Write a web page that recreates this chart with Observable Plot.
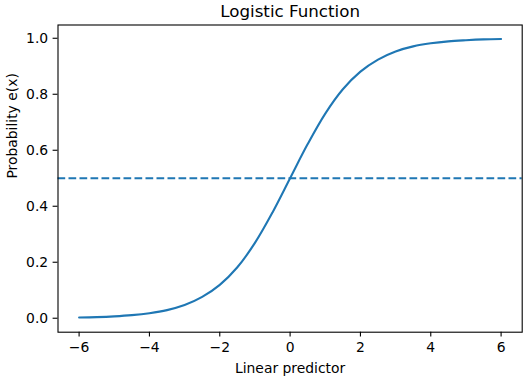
<!DOCTYPE html>
<html>
<head>
<meta charset="utf-8">
<script src="https://cdn.jsdelivr.net/npm/d3@7"></script>
<script src="https://cdn.jsdelivr.net/npm/@observablehq/plot@0.6"></script>
<style>
  html, body { margin: 0; padding: 0; background: #fff; }
  svg { display: block; }
</style>
</head>
<body>
<div id="chart"></div>
<script>
// Values
const xValues = [-6, -5.5, -5, -4.5, -4, -3.5, -3, -2.5, -2, -1.5, -1, -0.5, 0, 0.5, 1, 1.5, 2, 2.5, 3, 3.5, 4, 4.5, 5, 5.5, 6];
const probValues = [0.0025, 0.004, 0.0067, 0.011, 0.018, 0.029, 0.047, 0.076, 0.119, 0.182, 0.269, 0.378, 0.5, 0.622, 0.731, 0.818, 0.881, 0.924, 0.953, 0.971, 0.982, 0.989, 0.993, 0.996, 0.9975];
const thresholdValue = [0.5];
const xTicks = [-6, -4, -2, 0, 2, 4, 6];
const yTicks = [0.0, 0.2, 0.4, 0.6, 0.8, 1.0];
const titleText = "Logistic Function";
const xLabelText = "Linear predictor";
const yLabelText = "Probability e(x)";

const data = xValues.map((x, i) => ({x, y: probValues[i]}));
const blue = "#1f77b4";
const font = "DejaVu Sans, sans-serif";

const chart = Plot.plot({
  width: 527,
  height: 379,
  marginLeft: 57.5,
  marginRight: 5.3,
  marginTop: 24.5,
  marginBottom: 47.3,
  style: {fontFamily: font, fontSize: "13.9px", color: "black", background: "white"},
  x: {domain: [-6.6, 6.6]},
  y: {domain: [-0.04988, 1.04738]},
  marks: [
    Plot.line(data, {x: "x", y: "y", stroke: blue, strokeWidth: 2.08, curve: "catmull-rom"}),
    Plot.ruleY(thresholdValue, {stroke: blue, strokeWidth: 2.08, strokeDasharray: "7.7,3.3"}),
    Plot.frame({stroke: "black", strokeWidth: 1.1}),
    Plot.axisX({ticks: xTicks, tickSize: 4.9, tickPadding: 4.9, label: null, tickFormat: d3.format("d"), stroke: "black", strokeWidth: 1.1, fontSize: 13.9}),
    Plot.axisY({ticks: yTicks, tickSize: 4.9, tickPadding: 4.9, label: null, tickFormat: d3.format(".1f"), stroke: "black", strokeWidth: 1.1, fontSize: 13.9}),
    Plot.text([titleText], {frameAnchor: "top", dy: -13.5, text: d => d, fontSize: 16.7, fill: "black", lineAnchor: "middle"}),
    Plot.text([xLabelText], {frameAnchor: "bottom", dy: 36.5, text: d => d, fontSize: 13.9, fill: "black", lineAnchor: "middle"}),
    Plot.text([yLabelText], {frameAnchor: "left", dx: -45, text: d => d, fontSize: 13.9, fill: "black", rotate: -90, lineAnchor: "middle"})
  ]
});
document.getElementById("chart").appendChild(chart);
</script>
</body>
</html>
